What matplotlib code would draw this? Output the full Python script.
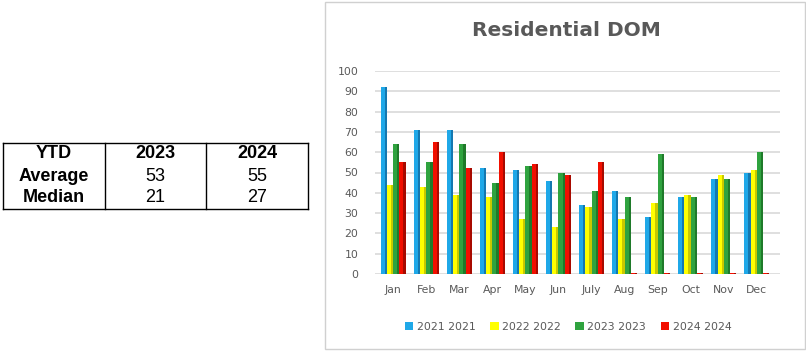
import matplotlib.pyplot as plt
import numpy as np
from matplotlib.patches import Rectangle

months = ['Jan', 'Feb', 'Mar', 'Apr', 'May', 'Jun', 'July', 'Aug', 'Sep', 'Oct', 'Nov', 'Dec']
dom_2021 = [92, 71, 71, 52, 51, 46, 34, 41, 28, 38, 47, 50]
dom_2022 = [44, 43, 39, 38, 27, 23, 33, 27, 35, 39, 49, 51]
dom_2023 = [64, 55, 64, 45, 53, 50, 41, 38, 59, 38, 47, 60]
dom_2024 = [55, 65, 52, 60, 54, 49, 55, 0, 0, 0, 0, 0]
series_labels = ['2021 2021', '2022 2022', '2023 2023', '2024 2024']

table_header = ['YTD', '2023', '2024']
table_rows = [['Average', '53', '55'], ['Median', '21', '27']]

colors = ['#1FA8E8', '#FFFF00', '#2FA33F', '#F20F00']
sides = ['#1478B0', '#C8C800', '#1F7A2A', '#A80A00']
text_grey = '#595959'

fig = plt.figure(figsize=(8.06, 3.54), dpi=100)

# chart frame
fig.patches.append(Rectangle((325 / 806, 1 - 349 / 354), 480 / 806, 347 / 354,
                             transform=fig.transFigure, fill=False,
                             edgecolor='#D0D0D0', linewidth=1))

ax = fig.add_axes([375 / 806, 1 - 274 / 354, 405 / 806, 203 / 354])
x = np.arange(len(months))
bar_w = 0.19
data = [dom_2021, dom_2022, dom_2023, dom_2024]
for i, vals in enumerate(data):
    pos = x + (i - 1.5) * bar_w
    vals = np.array(vals, dtype=float)
    shown = np.where(vals == 0, 0.6, vals)
    ax.bar(pos, shown, width=bar_w, color=colors[i], zorder=3 + i)
    ax.bar(pos + bar_w * 0.32, shown, width=bar_w * 0.36, color=sides[i], zorder=3 + i)
    ax.bar(pos[0] - 10, 0, color=colors[i], label=series_labels[i])

ax.set_ylim(0, 100)
ax.set_xlim(-0.55, 11.7)
ax.set_yticks(range(0, 101, 10))
ax.set_xticks(x)
ax.set_xticklabels(months)
ax.yaxis.grid(True, color='#D9D9D9', linewidth=1.2, zorder=0)
for s in ax.spines.values():
    s.set_visible(False)
ax.tick_params(length=0, labelsize=7.8, labelcolor=text_grey)
ax.tick_params(axis='x', pad=8)
ax.tick_params(axis='y', pad=12)

fig.text(566 / 806, 1 - 31 / 354, 'Residential DOM', ha='center', va='center',
         fontsize=14.5, fontweight='bold', color=text_grey, family='DejaVu Sans')

leg = fig.legend(loc='center', bbox_to_anchor=(568 / 806, 1 - 327 / 354), ncol=4,
                 frameon=False, fontsize=7.8, handlelength=0.8, handleheight=0.8,
                 handletextpad=0.3, columnspacing=1.35)
for t in leg.get_texts():
    t.set_color(text_grey)

# YTD table
col_edges = [3, 105, 206, 308]
row_edges = [143, 165, 187, 209]
W, H = 806, 354
for xe in col_edges:
    fig.add_artist(plt.Line2D([xe / W, xe / W], [1 - row_edges[0] / H, 1 - row_edges[-1] / H],
                              color='black', linewidth=1, transform=fig.transFigure))
for ye in [row_edges[0], row_edges[-1]]:
    fig.add_artist(plt.Line2D([col_edges[0] / W, col_edges[-1] / W], [1 - ye / H, 1 - ye / H],
                              color='black', linewidth=1, transform=fig.transFigure))
all_rows = [table_header] + table_rows
for r, row in enumerate(all_rows):
    yc = (row_edges[r] + row_edges[r + 1]) / 2
    for c, cell in enumerate(row):
        xc = (col_edges[c] + col_edges[c + 1]) / 2
        bold = r == 0 or c == 0
        fig.text(xc / W, 1 - yc / H, cell, ha='center', va='center', fontsize=13,
                 fontweight='bold' if bold else 'normal', family='Liberation Sans',
                 color='black')

fig.savefig('out.png', dpi=100)
